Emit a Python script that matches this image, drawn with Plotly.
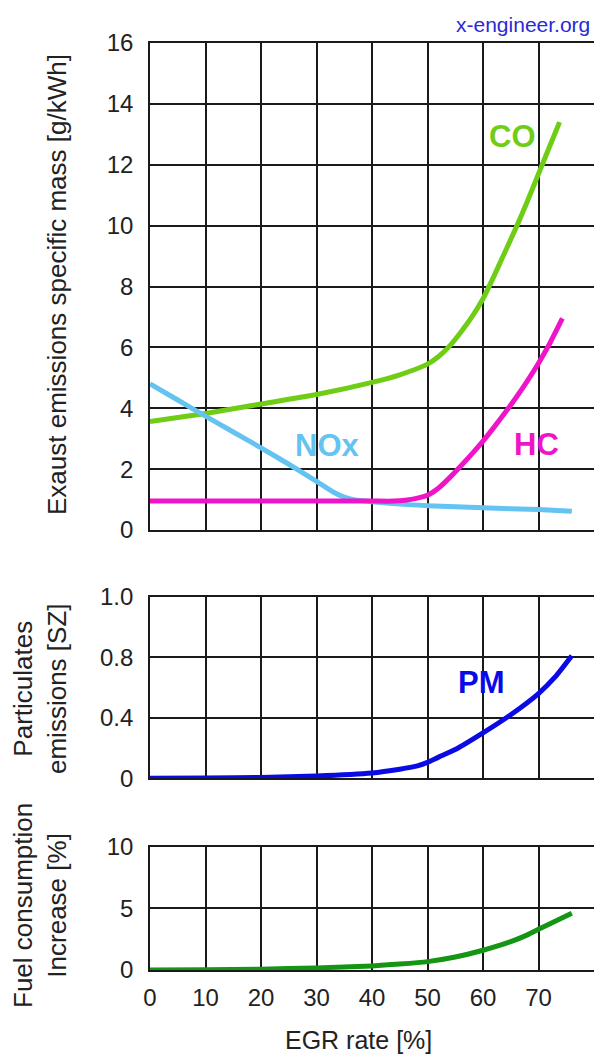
import plotly.graph_objects as go

# EGR rate [%] and emissions read per curve
co_x = [0, 10, 20, 30, 40, 45, 50, 52, 54, 56, 58, 60, 62, 64, 66, 68, 70, 72, 73.8]
co_y = [3.56, 3.83, 4.14, 4.45, 4.85, 5.1, 5.45, 5.7, 6.05, 6.5, 7.0, 7.6, 8.35, 9.15, 9.95,
        10.8, 11.7, 12.6, 13.4]

nox_x = [0, 5, 10, 15, 20, 25, 30, 33, 35, 37, 40, 45, 50, 60, 70, 76]
nox_y = [4.8, 4.27, 3.74, 3.22, 2.7, 2.16, 1.6, 1.25, 1.08, 0.99, 0.93, 0.85, 0.8, 0.73, 0.67, 0.62]

hc_x = [0, 10, 20, 30, 40, 44, 46, 48, 50, 52, 54, 56, 58, 60, 62, 64, 66, 68, 70, 72, 74.3]
hc_y = [0.95, 0.95, 0.95, 0.95, 0.95, 0.95, 0.98, 1.04, 1.14, 1.38, 1.72, 2.1, 2.5, 2.92, 3.38,
        3.86, 4.36, 4.9, 5.48, 6.12, 6.95]

pm_x = [0, 10, 20, 30, 40, 45, 48, 50, 52, 55, 60, 65, 70, 73, 76]
pm_y = [0.0, 0.002, 0.006, 0.015, 0.035, 0.06, 0.08, 0.105, 0.14, 0.19, 0.3, 0.42, 0.56, 0.67, 0.81]

fuel_x = [0, 10, 20, 30, 40, 45, 50, 55, 60, 65, 68, 70, 73, 76]
fuel_y = [0.0, 0.02, 0.07, 0.17, 0.33, 0.48, 0.68, 1.05, 1.6, 2.3, 2.85, 3.3, 3.95, 4.6]

x_ticks = [0, 10, 20, 30, 40, 50, 60, 70]
top_ticks = [0, 2, 4, 6, 8, 10, 12, 14, 16]
pm_tickvals = [0, 0.4, 0.8, 1.2]
pm_ticktext = ["0", "0.4", "0.8", "1.0"]
fuel_ticks = [0, 5, 10]

C_CO = "#6ecd14"
C_NOX = "#64c3f0"
C_HC = "#f014c8"
C_PM = "#0a0ae6"
C_FUEL = "#149614"
GRID = "#1a1a1a"
TXT = "#222"
FONT = "Liberation Sans"

W, H = 594, 1055
L = 150

fig = go.Figure()

def curve(x, y, color, xa, ya):
    fig.add_trace(go.Scatter(x=x, y=y, mode="lines", xaxis=xa, yaxis=ya,
                             line=dict(color=color, width=5, shape="spline", smoothing=0.6),
                             showlegend=False, hoverinfo="skip"))

curve(co_x, co_y, C_CO, "x", "y")
curve(nox_x, nox_y, C_NOX, "x", "y")
curve(hc_x, hc_y, C_HC, "x", "y")
curve(pm_x, pm_y, C_PM, "x2", "y2")
curve(fuel_x, fuel_y, C_FUEL, "x3", "y3")

def ydom(top_px, bottom_px):
    return [1 - bottom_px / H, 1 - top_px / H]

tickfont = dict(family=FONT, size=24, color=TXT)
xcommon = dict(range=[0, 80], tickvals=x_ticks, showgrid=True, gridcolor=GRID, gridwidth=1.6,
               zeroline=False, showline=True, linecolor=GRID, linewidth=1.6, mirror=True,
               ticks="", domain=[0, 1])
ycommon = dict(showgrid=True, gridcolor=GRID, gridwidth=1.6, zeroline=False,
               showline=True, linecolor=GRID, linewidth=1.6, ticks="",
               tickfont=tickfont, ticklabelstandoff=10)

fig.update_layout(
    width=W, height=H,
    margin=dict(l=L, r=0, t=0, b=0, autoexpand=False),
    paper_bgcolor="white", plot_bgcolor="white",
    font=dict(family=FONT, color=TXT),
    xaxis=dict(**xcommon, anchor="y", showticklabels=False),
    yaxis=dict(**ycommon, anchor="x", domain=ydom(43, 530), range=[0, 16], tickvals=top_ticks),
    xaxis2=dict(**xcommon, anchor="y2", showticklabels=False),
    yaxis2=dict(**ycommon, anchor="x2", domain=ydom(596.7, 778.3), range=[0, 1.2],
                tickvals=pm_tickvals, ticktext=pm_ticktext),
    xaxis3=dict(**xcommon, anchor="y3", showticklabels=True, tickfont=tickfont,
                ticklabelstandoff=5),
    yaxis3=dict(**ycommon, anchor="x3", domain=ydom(846.7, 970), range=[0, 10], tickvals=fuel_ticks),
)

pw = W - L
def px_x(p):
    return (p - L) / pw

def label(text, x, y, color, xa, ya):
    fig.add_annotation(text=f"<b>{text}</b>", x=x, y=y, xref=xa, yref=ya, showarrow=False,
                       font=dict(family=FONT, size=31, color=color))

label("CO", 65.3, 12.92, C_CO, "x", "y")
label("NOx", 31.9, 2.79, C_NOX, "x", "y")
label("HC", 69.7, 2.82, C_HC, "x", "y")
label("PM", 59.8, 0.63, C_PM, "x2", "y2")

def ytitle(text, xp, yp):
    fig.add_annotation(text=text, x=px_x(xp), y=1 - yp / H, xref="paper", yref="paper",
                       textangle=-90, showarrow=False, xanchor="center", yanchor="middle",
                       font=dict(family=FONT, size=26, color=TXT))

ytitle("Exaust emissions specific mass [g/kWh]", 57, 285)
ytitle("Particulates<br>emissions [SZ]", 40, 689)
ytitle("Fuel consumption<br>Increase [%]", 40, 906)

fig.add_annotation(text="EGR rate [%]", x=px_x(358), y=1 - 1040 / H, xref="paper", yref="paper",
                   showarrow=False, xanchor="center", yanchor="middle",
                   font=dict(family=FONT, size=25, color=TXT))

fig.add_annotation(text="x-engineer.org", x=px_x(592), y=1 - 24 / H, xref="paper", yref="paper",
                   showarrow=False, xanchor="right", yanchor="middle",
                   font=dict(family=FONT, size=21, color="#2a2ad6"))

fig.write_html("out.html")
